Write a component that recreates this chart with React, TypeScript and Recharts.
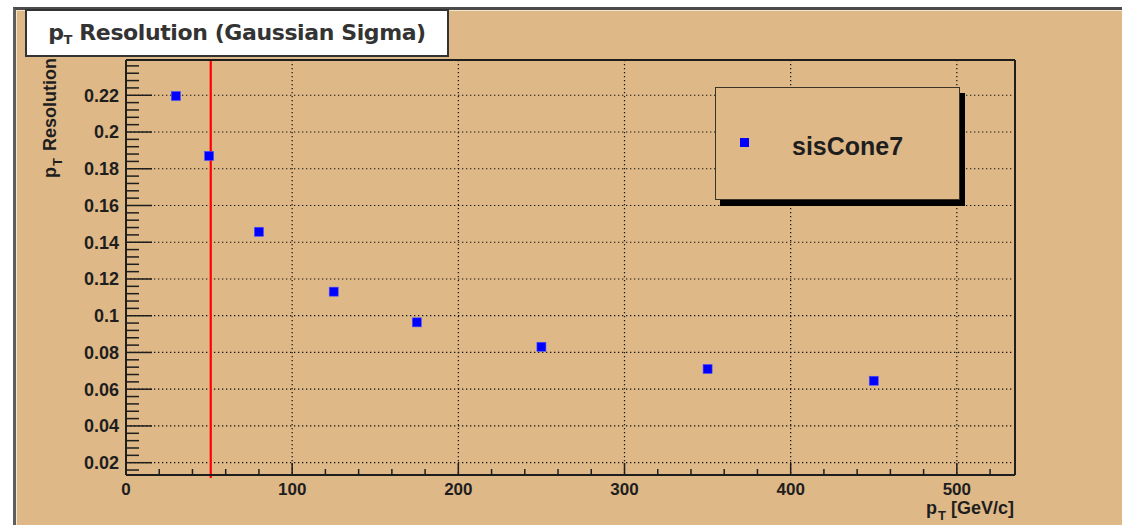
import React from "react";
import {
  CartesianGrid,
  Legend,
  ReferenceLine,
  Scatter,
  ScatterChart,
  XAxis,
  YAxis,
} from "recharts";

// pT bins (GeV/c) and fitted gaussian sigma of the resolution
const ptBins = [30, 50, 80, 125, 175, 250, 350, 450];
const sigma = [0.2196, 0.187, 0.1457, 0.1131, 0.0964, 0.0831, 0.071, 0.0646];
const seriesName = "sisCone7";

const xMajorTicks = [0, 100, 200, 300, 400, 500];
const yMajorTicks = [0.02, 0.04, 0.06, 0.08, 0.1, 0.12, 0.14, 0.16, 0.18, 0.2, 0.22];
const xAllTicks = Array.from({ length: 27 }, (_, i) => i * 20);
const yAllTicks = Array.from({ length: 56 }, (_, i) => +(0.016 + i * 0.004).toFixed(3));

const xDomain: [number, number] = [0, 535];
const yDomain: [number, number] = [0.0133, 0.2392];
const ptCut = 51;

const points = ptBins.map((x, i) => ({ x, y: sigma[i] }));

const CANVAS = "#DEB887";
const INK = "#1e1e1e";
const LABEL_FONT = "'Liberation Sans', Arial, sans-serif";

const isMajor = (list: number[], v: number) => list.some((t) => Math.abs(t - v) < 1e-9);

const SquareMarker = (props: any) => {
  const { cx, cy } = props;
  return <rect x={cx - 4.5} y={cy - 4.5} width={9} height={9} fill="#0000ff" stroke="#4d4dff" strokeWidth={0.6} />;
};

// ROOT style ticks: marks point into the frame, labels only on major ticks
const XTick = ({ x, y, payload }: any) => {
  const major = isMajor(xMajorTicks, payload.value);
  return (
    <g>
      <line x1={x} x2={x} y1={y} y2={y - (major ? 12 : 6)} stroke={INK} strokeWidth={1.5} />
      {major && (
        <text
          x={x}
          y={y + 8}
          dy="0.71em"
          textAnchor="middle"
          fill={INK}
          fontSize={17}
          fontWeight="bold"
          fontFamily={LABEL_FONT}
        >
          {payload.value}
        </text>
      )}
    </g>
  );
};

const YTick = ({ x, y, payload }: any) => {
  const major = isMajor(yMajorTicks, payload.value);
  return (
    <g>
      <line x1={x} x2={x + (major ? 26 : 13)} y1={y} y2={y} stroke={INK} strokeWidth={1.5} />
      {major && (
        <text
          x={x - 7}
          y={y}
          dy="0.355em"
          textAnchor="end"
          fill={INK}
          fontSize={18}
          fontWeight="bold"
          fontFamily={LABEL_FONT}
        >
          {payload.value}
        </text>
      )}
    </g>
  );
};

const YTitle = ({ viewBox }: any) => {
  const x = viewBox.x + viewBox.width - 70;
  const y = viewBox.y - 2;
  return (
    <text
      x={x}
      y={y}
      transform={`rotate(-90, ${x}, ${y})`}
      textAnchor="end"
      fontFamily={LABEL_FONT}
      fontWeight="bold"
      fontSize={18}
      fill={INK}
    >
      p
      <tspan dy={6} dx={1} fontSize={13}>T</tspan>
      <tspan dy={-6} dx={2}> Resolution</tspan>
    </text>
  );
};

const XTitle = ({ viewBox }: any) => {
  const x = viewBox.x + viewBox.width - 1;
  const y = viewBox.y + 39;
  return (
    <text x={x} y={y} textAnchor="end" fontFamily={LABEL_FONT} fontWeight="bold" fontSize={18} fill={INK}>
      p
      <tspan dy={6} dx={1} fontSize={13}>T</tspan>
      <tspan dy={-6}> [GeV/c]</tspan>
    </text>
  );
};

const LegendBox = ({ payload }: any) => {
  const item = payload?.[0];
  return (
    <div
      style={{
        width: 245,
        height: 113,
        boxSizing: "border-box",
        border: "1.5px solid #3a3326",
        background: CANVAS,
        boxShadow: "5px 6px 0 #000",
        position: "relative",
      }}
    >
      <div style={{ position: "absolute", left: 24, top: 50, width: 9, height: 9, background: "#0000ff" }} />
      <div
        style={{
          position: "absolute",
          left: 76,
          top: 44,
          fontFamily: LABEL_FONT,
          fontWeight: "bold",
          fontSize: 25,
          lineHeight: "28px",
          color: INK,
        }}
      >
        {item?.value ?? seriesName}
      </div>
    </div>
  );
};

const frameStroke = { stroke: INK, strokeWidth: 2 };

export default function App() {
  return (
    <div style={{ position: "fixed", left: 0, top: 0, width: 1122, height: 525, background: "#fff", overflow: "hidden" }}>
      <div
        style={{
          position: "absolute",
          left: 13,
          top: 7,
          width: 1109,
          height: 518,
          boxSizing: "border-box",
          background: CANVAS,
          borderTop: "3px solid #4b4b4b",
          borderLeft: "3px solid #5e5e5e",
          boxShadow: "inset 1px 1px 0 #f3e6cf",
        }}
      />
      <div style={{ position: "absolute", left: 0, top: 0 }}>
        <ScatterChart width={1122} height={525} margin={{ top: 59, right: 106, bottom: 49, left: 125 }}>
          <CartesianGrid
            xAxisId="x"
            yAxisId="y"
            horizontalValues={yMajorTicks}
            verticalValues={xMajorTicks}
            stroke="#111"
            strokeWidth={1.2}
            strokeDasharray="1.3 2.7"
            fill="none"
          />
          <XAxis
            xAxisId="x"
            dataKey="x"
            type="number"
            domain={xDomain}
            ticks={xAllTicks}
            interval={0}
            allowDataOverflow
            height={1}
            tickLine={false}
            tickSize={0}
            tickMargin={0}
            axisLine={frameStroke}
            tick={XTick}
            label={XTitle}
          />
          <XAxis
            xAxisId="xTop"
            orientation="top"
            type="number"
            domain={xDomain}
            allowDataOverflow
            height={1}
            tick={false}
            tickLine={false}
            axisLine={frameStroke}
          />
          <YAxis
            yAxisId="y"
            dataKey="y"
            type="number"
            domain={yDomain}
            ticks={yAllTicks}
            interval={0}
            allowDataOverflow
            width={1}
            tickLine={false}
            tickSize={0}
            tickMargin={0}
            axisLine={frameStroke}
            tick={YTick}
            label={YTitle}
          />
          <YAxis
            yAxisId="yRight"
            orientation="right"
            type="number"
            domain={yDomain}
            allowDataOverflow
            width={1}
            tick={false}
            tickLine={false}
            axisLine={frameStroke}
          />
          <ReferenceLine
            xAxisId="x"
            yAxisId="y"
            segment={[
              { x: ptCut, y: 0.0116 },
              { x: ptCut, y: yDomain[1] },
            ]}
            ifOverflow="visible"
            stroke="#ff0000"
            strokeWidth={2.2}
          />
          <Scatter
            xAxisId="x"
            yAxisId="y"
            name={seriesName}
            data={points}
            fill="#0000ff"
            shape={SquareMarker}
            isAnimationActive={false}
          />
          <Legend
            layout="horizontal"
            align="center"
            verticalAlign="middle"
            content={LegendBox}
            wrapperStyle={{ left: 715, top: 87, width: 245, height: 113 }}
          />
        </ScatterChart>
      </div>
      <div
        style={{
          position: "absolute",
          left: 25,
          top: 9,
          width: 424,
          height: 48,
          boxSizing: "border-box",
          background: "#fff",
          border: "2px solid #333",
          display: "flex",
          alignItems: "center",
          justifyContent: "center",
          fontFamily: "'DejaVu Sans', Verdana, sans-serif",
          fontWeight: "bold",
          fontSize: 22,
          letterSpacing: -0.4,
          color: "#333",
          whiteSpace: "nowrap",
        }}
      >
        <span>
          p<span style={{ fontSize: 13, verticalAlign: -4 }}>T</span> Resolution (Gaussian Sigma)
        </span>
      </div>
    </div>
  );
}
